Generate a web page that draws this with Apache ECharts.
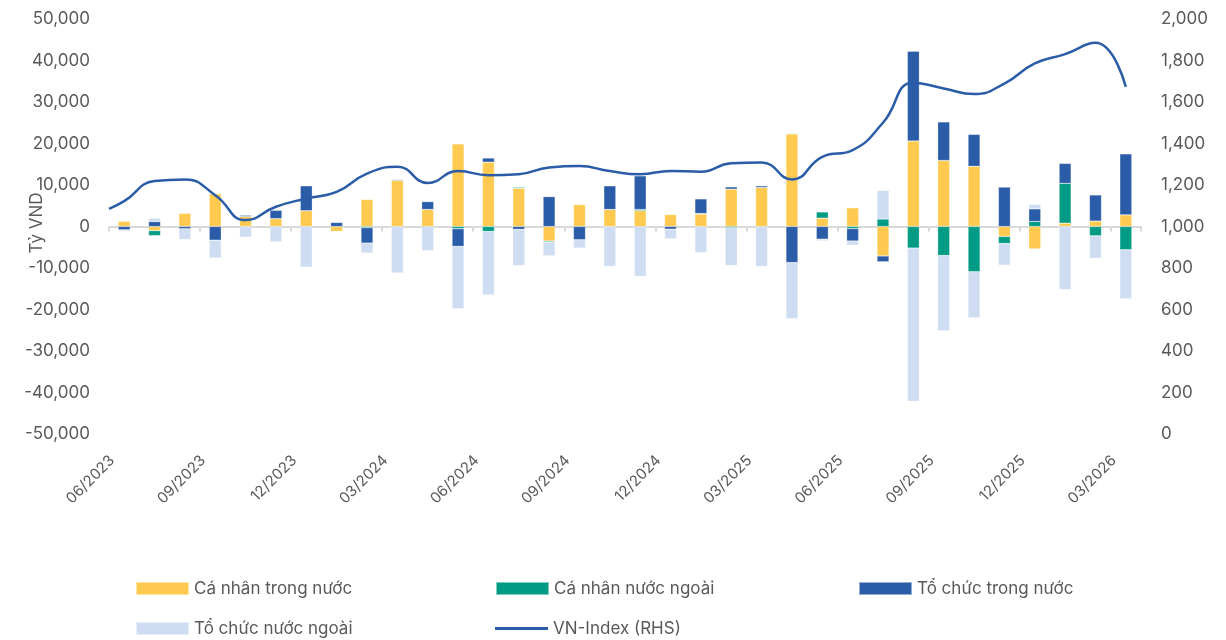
<!DOCTYPE html>
<html>
<head>
<meta charset="utf-8">
<script src="https://cdn.jsdelivr.net/npm/echarts@6/dist/echarts.min.js"></script>
<style>html,body{margin:0;padding:0;background:#fff}#c{width:1226px;height:640px}</style>
</head>
<body>
<div id="c"></div>
<script>
var categories = ['06/2023','07/2023','08/2023','09/2023','10/2023','11/2023','12/2023',
  '01/2024','02/2024','03/2024','04/2024','05/2024','06/2024','07/2024','08/2024','09/2024','10/2024','11/2024','12/2024',
  '01/2025','02/2025','03/2025','04/2025','05/2025','06/2025','07/2025','08/2025','09/2025','10/2025','11/2025','12/2025',
  '01/2026','02/2026','03/2026'];

var caNhanTrongNuoc = [1300,-1000,3200,7900,2400,1900,3800,-1200,6500,11100,4100,19900,15500,9200,-3500,5300,4100,3800,2900,3000,9000,9400,22300,2000,4500,-7100,20600,15900,14500,-2400,-5400,800,1300,2800];
var caNhanNuocNgoai = [0,-1200,0,0,0,0,0,0,-300,0,0,-550,-1200,250,-250,0,0,300,0,150,-300,0,150,1500,-500,1800,-5200,-7000,-10900,-1700,1200,9600,-2250,-5600];
var toChucTrongNuoc = [-800,1200,-560,-3300,300,2000,6000,1000,-3700,200,1900,-4250,1000,-700,7200,-3200,5700,8100,-650,3500,550,400,-8700,-3050,-3000,-1400,21600,9300,7700,9500,3050,4800,6300,14700];
var toChucNuocNgoai = [-300,800,-2570,-4300,-2570,-3700,-9800,0,-2400,-11200,-5800,-15000,-15300,-8700,-3300,-2000,-9600,-12000,-2300,-6300,-9100,-9600,-13500,-400,-1000,6900,-36900,-18100,-11100,-5200,1100,-15200,-5400,-11800];

// VN-Index points: month index (0 = 06/2023) and value
var vnIndexX = [-0.5,0,1,2,3,4,5,6,7,8,9,10,11,12,13,14,15,16,17,18,19,20,21,22,23,24,25,26,27,28,29,30,31,32,33];
var vnIndex = [1085,1122,1219,1227,1151,1031,1095,1135,1167,1255,1288,1210,1267,1247,1252,1284,1291,1267,1252,1268,1264,1305,1309,1227,1336,1368,1500,1693,1665,1638,1689,1786,1831,1885,1673];

var leftTicks = {min:-50000, max:50000, interval:10000};
var rightTicks = {min:0, max:2000, interval:200};

var FONT = 'Inter';
var FS = 17;
var TXT = '#595959';
var C_YEL = '#FFCA4F', C_GRN = '#009B84', C_BLU = '#2A5CA8', C_LBL = '#CFDDF2';

var lineData = vnIndexX.map(function(x,i){return [x, vnIndex[i]];});
function fmt(v){return Number(v).toLocaleString('en-US');}

function bar(name, data, color){
  return {name:name, type:'bar', stack:'flow', data:data, barWidth:12, xAxisIndex:0, yAxisIndex:0,
    itemStyle:{color:color, borderColor:'rgba(255,255,255,0.5)', borderWidth:0.5}, emphasis:{disabled:true}};
}
function leg(name, left, top){
  return {data:[{name:name, icon:'rect'}], left:left, top:top, padding:0, itemWidth:53, itemHeight:13, itemGap:0,
    textStyle:{fontFamily:FONT, fontSize:FS, color:TXT}, selectedMode:false};
}

var chart = echarts.init(document.getElementById('c'), null, {renderer:'canvas'});
chart.setOption({
  animation:false,
  backgroundColor:'#fff',
  grid:{left:109, right:85, top:19, bottom:206, containLabel:false, outerBoundsMode:'none'},
  legend:[
    leg('Cá nhân trong nước',135,580),
    leg('Cá nhân nước ngoài',495,580),
    leg('Tổ chức trong nước',858,580),
    leg('Tổ chức nước ngoài',135,620),
    {data:[{name:'VN-Index (RHS)', icon:'rect'}], left:495, top:620, padding:0, itemWidth:53, itemHeight:3, itemGap:0,
      itemStyle:{color:C_BLU}, textStyle:{fontFamily:FONT, fontSize:FS, color:TXT}, selectedMode:false}
  ],
  xAxis:[
    {type:'category', data:categories, boundaryGap:true,
      axisLine:{show:true, onZero:true, lineStyle:{color:'#D9D9D9', width:2}},
      axisTick:{show:true, interval:2, length:5, lineStyle:{color:'#D9D9D9', width:2}},
      axisLabel:{show:false}, splitLine:{show:false}},
    {type:'category', data:categories, boundaryGap:true, position:'bottom',
      axisLine:{show:false, onZero:false}, axisTick:{show:false}, splitLine:{show:false},
      axisLabel:{interval:2, rotate:45, margin:12, padding:[0,17,28,0], fontFamily:FONT, fontSize:15, color:TXT}},
    {type:'value', min:-0.5, max:33.5, show:false}
  ],
  yAxis:[
    {type:'value', min:leftTicks.min, max:leftTicks.max, interval:leftTicks.interval,
      name:'Tỷ VND', nameLocation:'middle', nameGap:64, nameRotate:90, nameMoveOverlap:false,
      nameTextStyle:{fontFamily:FONT, fontSize:FS, color:TXT, padding:[0,0,0,7]},
      axisLine:{show:false}, axisTick:{show:false}, splitLine:{show:false},
      axisLabel:{margin:19, fontFamily:FONT, fontSize:FS, color:TXT, formatter:fmt}},
    {type:'value', min:rightTicks.min, max:rightTicks.max, interval:rightTicks.interval, position:'right',
      axisLine:{show:false}, axisTick:{show:false}, splitLine:{show:false},
      axisLabel:{margin:20, fontFamily:FONT, fontSize:FS, color:TXT, formatter:fmt}}
  ],
  series:[
    bar('Cá nhân trong nước', caNhanTrongNuoc, C_YEL),
    bar('Cá nhân nước ngoài', caNhanNuocNgoai, C_GRN),
    bar('Tổ chức trong nước', toChucTrongNuoc, C_BLU),
    bar('Tổ chức nước ngoài', toChucNuocNgoai, C_LBL),
    {name:'VN-Index (RHS)', type:'line', xAxisIndex:2, yAxisIndex:1, data:lineData, smooth:0.5,
      symbol:'none', lineStyle:{color:C_BLU, width:2.5}, itemStyle:{color:C_BLU}, z:5}
  ]
});
</script>
</body>
</html>
